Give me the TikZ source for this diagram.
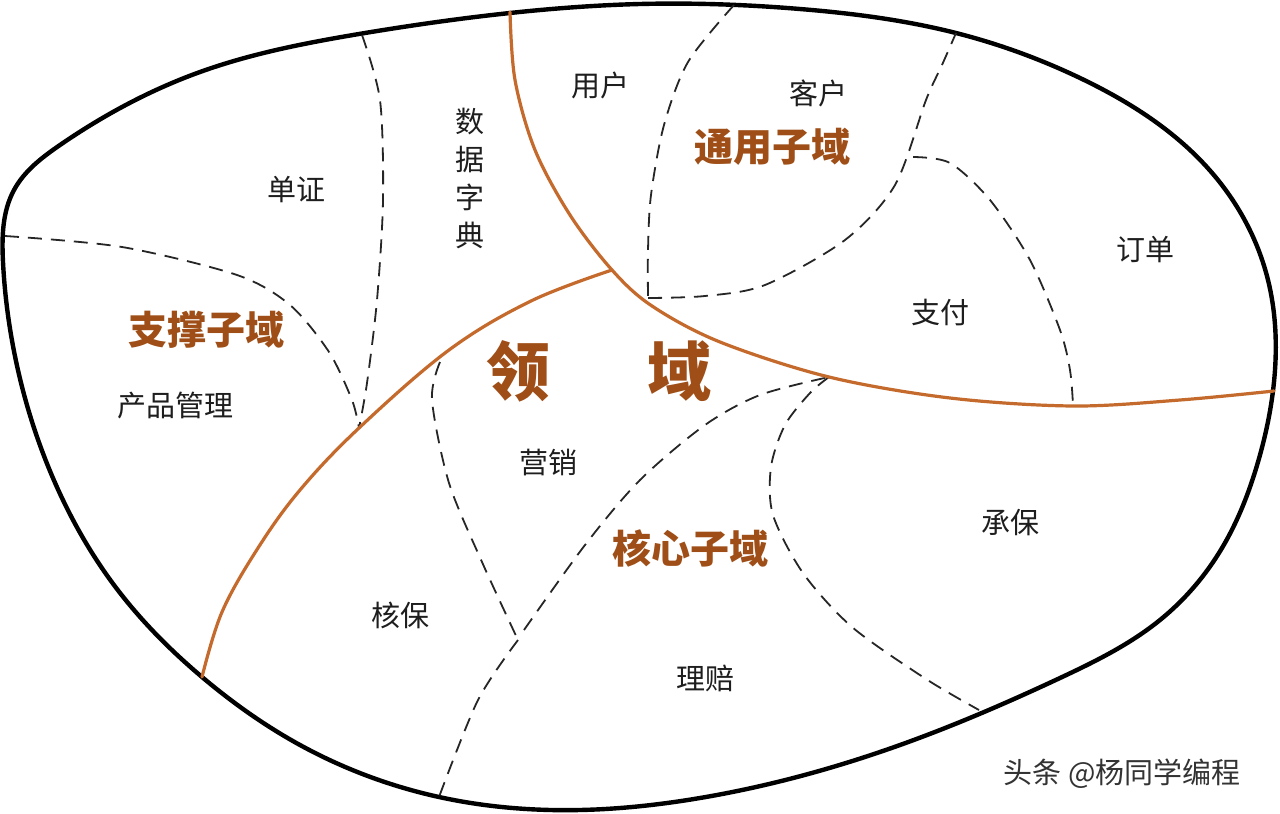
\documentclass[tikz,border=0pt]{standalone}
\usepackage{fontspec}
\usetikzlibrary{hobby}
\newfontfamily\cjk{Noto Sans CJK SC}
\definecolor{domline}{RGB}{196,106,44}
\definecolor{domtext}{RGB}{158,78,22}
\definecolor{labtext}{RGB}{30,30,30}
\begin{document}
\begin{tikzpicture}[x=1pt,y=-1pt,
  outline/.style={line width=4.4pt,black,line join=round},
  border/.style={line width=3.2pt,domline,line cap=round},
  sub/.style={line width=1.8pt,black!85,dash pattern=on 14pt off 9pt},
  lab/.style={font=\cjk\fontsize{29}{32}\selectfont,text=labtext,inner sep=0pt},
  subdom/.style={font=\cjk\bfseries\fontsize{39}{42}\selectfont,text=domtext,inner sep=0pt},
  big/.style={font=\cjk\bfseries\fontsize{64}{66}\selectfont,text=domtext,inner sep=0pt},
  wmark/.style={font=\cjk\fontsize{29}{32}\selectfont,text=black!80,inner sep=0pt}]
\useasboundingbox (0,0) rectangle (1280,814);
\fill[white] (0,0) rectangle (1280,814);

% outer boundary
\draw[outline] plot[closed hobby] coordinates {
 (3,262) (14,190) (60,145) (200,72) (359,34) (510,13) (640,4)
 (800,9) (956,33) (1080,78) (1213,174) (1268,280) (1275,370)
 (1258,462) (1222,548) (1160,620) (1060,678) (900,745) (700,798) (580,810) (439,797)
 (300,745) (202,677) (117,589) (50,471) (13,346)};

% named junctions
\coordinate (top) at (510,12);
\coordinate (J) at (612,270);
\coordinate (rightend) at (1274,391);
\coordinate (leftend) at (202,677);
\coordinate (K) at (359,428);
\coordinate (C) at (648,298);
\coordinate (H) at (913,157);
\coordinate (M) at (518,640);
\coordinate (N) at (829,377);

% dashed subdomain boundaries
\draw[sub] plot[smooth] coordinates {(362,35) (380,100) (383,200) (377,300) (367,383) (K)};
\draw[sub] plot[smooth] coordinates {(5,236) (122,247) (237,275) (290,305) (329,352) (352,400) (K)};
\draw[sub] plot[smooth] coordinates {(734,5) (688,62) (664,125) (651,195) (648,250) (C)};
\draw[sub] plot[smooth] coordinates {(C) (705,296) (765,285) (845,240) (895,185) (926,100) (942,65) (956,33)};
\draw[sub] plot[smooth] coordinates {(H) (950,163) (990,200) (1030,260) (1060,330) (1070,370) (1073,405)};
\draw[sub] plot[smooth] coordinates {(440,362) (432,400) (449,483) (482,562) (M)};
\draw[sub] plot[smooth] coordinates {(M) (478,700) (439,797)};
\draw[sub] plot[smooth] coordinates {(524,630) (585,545) (640,480) (705,425) (760,395) (N)};
\draw[sub] plot[smooth] coordinates {(N) (810,393) (785,425) (771,467) (773,515) (803,573) (852,627) (926,679) (979,710)};

% core domain borders
\draw[border] plot[smooth,tension=0.55] coordinates {(top) (515,80) (535,150) (570,215) (J) (652,306) (720,342) (829,377) (950,398) (1073,406) (1180,400) (rightend)};
\draw[border] plot[smooth,tension=0.6] coordinates {(J) (531,301) (449,350) (K) (300,490) (258,548) (222,612) (leftend)};

% labels
\node[lab] (yonghu) at (600,85) {用户};
\node[lab] (kehu) at (818,93) {客户};
\node[subdom] (tongyong) at (772,147) {通用子域};
\node[lab,align=center] (shuju) at (470,178) {数\\[6pt]据\\[6pt]字\\[6pt]典};
\node[lab] (danzheng) at (296,190) {单证};
\node[subdom] (zhicheng) at (206,330) {支撑子域};
\node[lab] (chanpin) at (175,406) {产品管理};
\node[big] (ling) at (518,371) {领};
\node[big] (yu) at (679,371) {域};
\node[lab] (dingdan) at (1145,250) {订单};
\node[lab] (zhifu) at (940,313) {支付};
\node[lab] (yingxiao) at (548,463) {营销};
\node[subdom] (hexin) at (690,548) {核心子域};
\node[lab] (hebao) at (400,615) {核保};
\node[lab] (chengbao) at (1010,523) {承保};
\node[lab] (lipei) at (705,678) {理赔};
\node[wmark] (wm) at (1122,774) {头条 @杨同学编程};
\end{tikzpicture}
\end{document}
